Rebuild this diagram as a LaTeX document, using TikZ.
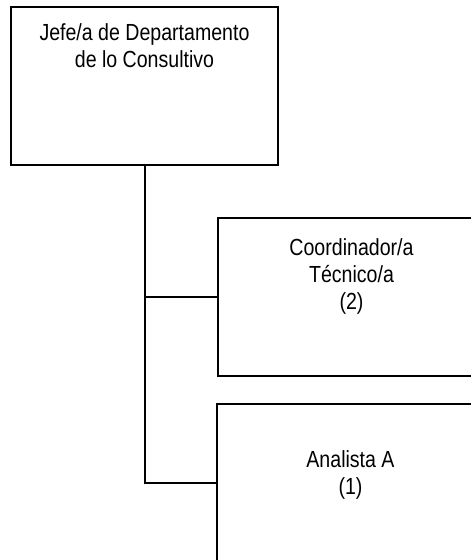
\documentclass[tikz,border=0pt]{standalone}
\usepackage{fontspec}
\setmainfont{Liberation Sans}[FakeStretch=0.84]
\usetikzlibrary{positioning}

\tikzset{
 puesto/.style={draw=black,line width=2pt,minimum width=267pt,minimum height=158pt,inner sep=0pt},
 cargo/.style={inner sep=0pt,align=center,font=\fontsize{23.3}{27}\selectfont},
 enlace/.style={line width=2pt}
}

\begin{document}
\begin{tikzpicture}[x=1pt,y=-1pt]
 \useasboundingbox (0,0) rectangle (471,560);
 \clip (0,0) rectangle (471,560);
 \node[puesto] (jefe) at (144.5,86) {};
 \node[puesto] (coord) at (351.5,297) {};
 \node[puesto] (ana) at (350.5,483) {};
 \node[cargo,below=17.7pt of jefe.north] (jefetxt) {Jefe/a de Departamento\\de lo Consultivo};
 \node[cargo,below=21.7pt of coord.north] (coordtxt) {Coordinador/a\\Técnico/a\\(2)};
 \node[cargo,below=47pt of ana.north] (anatxt) {Analista A\\(1)};
 \draw[enlace] (jefe.south) |- (coord.west);
 \draw[enlace] (jefe.south) |- (ana.west);
\end{tikzpicture}
\end{document}
